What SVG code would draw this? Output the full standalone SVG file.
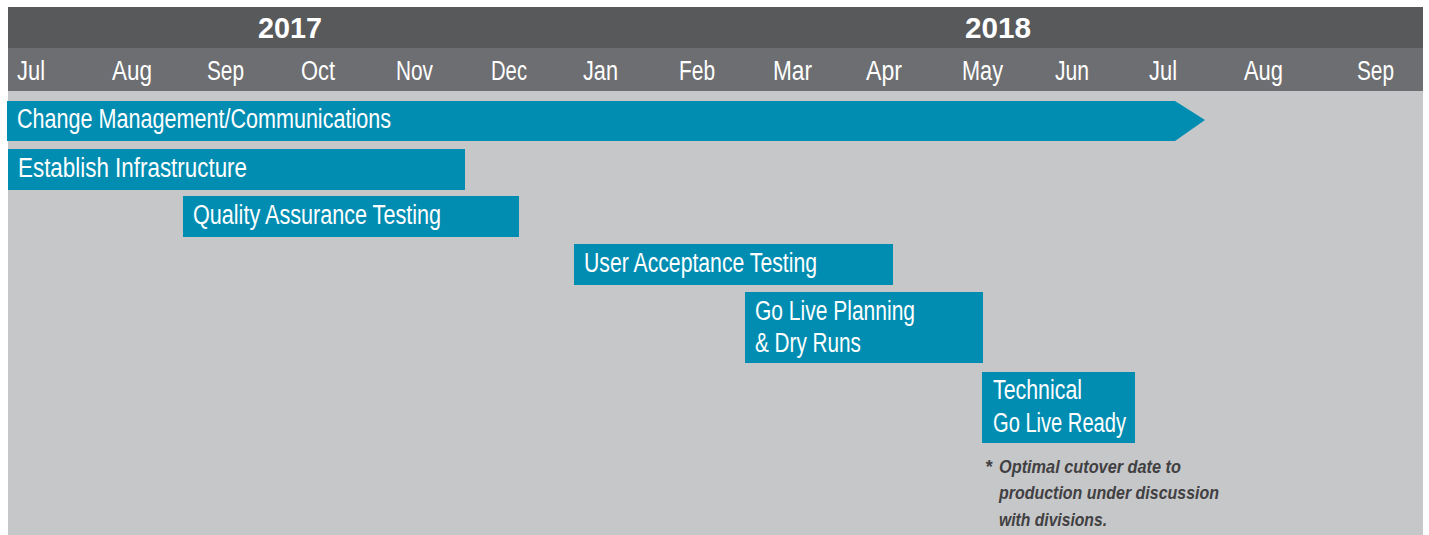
<svg xmlns="http://www.w3.org/2000/svg" width="1429" height="535" viewBox="0 0 1429 535">
<style>
.bar{fill:#018db2}
.lbl{font-family:"Liberation Sans",Arial,sans-serif;font-size:27px;fill:#ffffff}
.mon{font-family:"Liberation Sans",Arial,sans-serif;font-size:27px;fill:#ffffff}
.yr{font-family:"Liberation Sans",Arial,sans-serif;font-size:29px;font-weight:bold;fill:#ffffff}
.note{font-family:"Liberation Sans",Arial,sans-serif;font-size:18px;font-weight:bold;font-style:italic;fill:#414042}
</style>
<rect x="0" y="0" width="1429" height="535" fill="#ffffff"/>
<g id="background">
<rect x="8" y="7" width="1415" height="528" fill="#c6c7c9"/>
<rect x="8" y="7" width="1415" height="41" fill="#58595b"/>
<rect x="8" y="48" width="1415" height="43" fill="#6d6e71"/>
</g>
<g id="years">
<text class="yr" x="258" y="38" textLength="64" lengthAdjust="spacingAndGlyphs">2017</text>
<text class="yr" x="965" y="38" textLength="66" lengthAdjust="spacingAndGlyphs">2018</text>
</g>
<g id="months">
<text class="mon" x="17" y="80" textLength="28" lengthAdjust="spacingAndGlyphs">Jul</text>
<text class="mon" x="112" y="80" textLength="40" lengthAdjust="spacingAndGlyphs">Aug</text>
<text class="mon" x="207" y="80" textLength="37" lengthAdjust="spacingAndGlyphs">Sep</text>
<text class="mon" x="301" y="80" textLength="34" lengthAdjust="spacingAndGlyphs">Oct</text>
<text class="mon" x="396" y="80" textLength="37" lengthAdjust="spacingAndGlyphs">Nov</text>
<text class="mon" x="491" y="80" textLength="36" lengthAdjust="spacingAndGlyphs">Dec</text>
<text class="mon" x="583" y="80" textLength="35" lengthAdjust="spacingAndGlyphs">Jan</text>
<text class="mon" x="679" y="80" textLength="36" lengthAdjust="spacingAndGlyphs">Feb</text>
<text class="mon" x="773" y="80" textLength="39" lengthAdjust="spacingAndGlyphs">Mar</text>
<text class="mon" x="866" y="80" textLength="36" lengthAdjust="spacingAndGlyphs">Apr</text>
<text class="mon" x="962" y="80" textLength="41" lengthAdjust="spacingAndGlyphs">May</text>
<text class="mon" x="1055" y="80" textLength="34" lengthAdjust="spacingAndGlyphs">Jun</text>
<text class="mon" x="1149" y="80" textLength="28" lengthAdjust="spacingAndGlyphs">Jul</text>
<text class="mon" x="1244" y="80" textLength="39" lengthAdjust="spacingAndGlyphs">Aug</text>
<text class="mon" x="1357" y="80" textLength="37" lengthAdjust="spacingAndGlyphs">Sep</text>
</g>
<g id="change-management">
<polygon class="bar" points="7,101 1175,101 1205,120 1175,141 7,141"/>
<text class="lbl" x="17" y="128" textLength="374" lengthAdjust="spacingAndGlyphs">Change Management/Communications</text>
</g>
<g id="establish-infrastructure">
<rect class="bar" x="8" y="149" width="457" height="41"/>
<text class="lbl" x="18" y="177" textLength="229" lengthAdjust="spacingAndGlyphs">Establish Infrastructure</text>
</g>
<g id="qa-testing">
<rect class="bar" x="183" y="196" width="336" height="41"/>
<text class="lbl" x="193" y="224" textLength="248" lengthAdjust="spacingAndGlyphs">Quality Assurance Testing</text>
</g>
<g id="uat">
<rect class="bar" x="574" y="244" width="319" height="41"/>
<text class="lbl" x="584" y="272" textLength="233" lengthAdjust="spacingAndGlyphs">User Acceptance Testing</text>
</g>
<g id="go-live-planning">
<rect class="bar" x="745" y="292" width="238" height="71"/>
<text class="lbl" x="755" y="320" textLength="160" lengthAdjust="spacingAndGlyphs">Go Live Planning</text>
<text class="lbl" x="755" y="352" textLength="106" lengthAdjust="spacingAndGlyphs">&amp; Dry Runs</text>
</g>
<g id="technical-go-live">
<rect class="bar" x="982" y="372" width="153" height="71"/>
<text class="lbl" x="993" y="399" textLength="89" lengthAdjust="spacingAndGlyphs">Technical</text>
<text class="lbl" x="993" y="432" textLength="133" lengthAdjust="spacingAndGlyphs">Go Live Ready</text>
</g>
<g id="footnote">
<text class="note" x="985" y="473">*</text>
<text class="note" x="999" y="473" textLength="182" lengthAdjust="spacingAndGlyphs">Optimal cutover date to</text>
<text class="note" x="999" y="499" textLength="220" lengthAdjust="spacingAndGlyphs">production under discussion</text>
<text class="note" x="999" y="526" textLength="108" lengthAdjust="spacingAndGlyphs">with divisions.</text>
</g>
<g id="connectors"></g>
</svg>
